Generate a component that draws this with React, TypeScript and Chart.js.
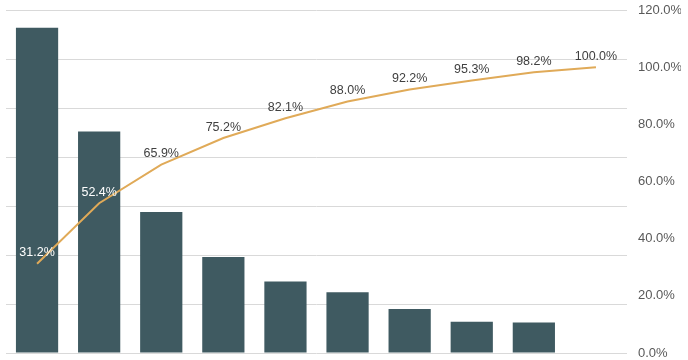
import React, { useEffect, useRef } from "react";
import { Chart, registerables } from "chart.js";

Chart.register(...registerables);

const categories = ["C1", "C2", "C3", "C4", "C5", "C6", "C7", "C8", "C9", "C10"];
const counts = [332, 226, 144, 98, 73, 62, 45, 32, 31, null];
const cumulativePct = [31.2, 52.4, 65.9, 75.2, 82.1, 88.0, 92.2, 95.3, 98.2, 100.0];
const leftMax = 350;
const leftStep = 50;
const rightMax = 120;
const rightStep = 20;

const labelPlugin = {
  id: "cumLabels",
  afterDatasetsDraw(chart: any) {
    const meta = chart.getDatasetMeta(1);
    const ctx = chart.ctx;
    ctx.save();
    ctx.font = "12.5px 'Liberation Sans', Arial, sans-serif";
    ctx.textAlign = "center";
    ctx.textBaseline = "middle";
    meta.data.forEach((pt: any, i: number) => {
      ctx.fillStyle = i < 2 ? "#ffffff" : "#404040";
      ctx.fillText(cumulativePct[i].toFixed(1) + "%", pt.x, pt.y - 11);
    });
    ctx.restore();
  },
};

export default function App() {
  const ref = useRef<HTMLCanvasElement>(null);
  useEffect(() => {
    const chart = new Chart(ref.current!, {
      type: "bar",
      data: {
        labels: categories,
        datasets: [
          {
            type: "bar",
            data: counts as any,
            backgroundColor: "#3f5a61",
            borderWidth: 0,
            categoryPercentage: 0.8,
            barPercentage: 0.85,
            yAxisID: "y",
            order: 2,
          },
          {
            type: "line",
            data: cumulativePct,
            borderColor: "#e0aa58",
            borderWidth: 2,
            pointRadius: 0,
            tension: 0,
            yAxisID: "y1",
            order: 1,
          } as any,
        ],
      },
      options: {
        animation: false,
        responsive: false,
        maintainAspectRatio: false,
        layout: { padding: { left: 6, right: 7, top: 10, bottom: 7 } },
        plugins: { legend: { display: false }, tooltip: { enabled: false } },
        scales: {
          x: { display: false },
          y: {
            position: "left",
            min: 0,
            max: leftMax,
            ticks: { stepSize: leftStep, display: false },
            grid: { color: "#d9d9d9", lineWidth: 1, drawTicks: false },
            border: { display: false },
            afterFit: (s: any) => { s.width = 0; s.paddingTop = 0; s.paddingBottom = 0; },
          },
          y1: {
            position: "right",
            min: 0,
            max: rightMax,
            ticks: {
              stepSize: rightStep,
              padding: 11,
              color: "#595959",
              font: { family: "'Liberation Sans', Arial, sans-serif", size: 13 },
              callback: (v: any) => Number(v).toFixed(1) + "%",
            },
            grid: { display: false, drawTicks: false },
            border: { display: false },
            afterFit: (s: any) => { s.width = 54; s.paddingTop = 0; s.paddingBottom = 0; },
          },
        },
      },
      plugins: [labelPlugin],
    });
    return () => chart.destroy();
  }, []);
  return (
    <div style={{ position: "fixed", left: 0, top: 0, width: 688, height: 360, background: "#fff" }}>
      <canvas ref={ref} width={688} height={360} style={{ width: 688, height: 360 }} />
    </div>
  );
}
